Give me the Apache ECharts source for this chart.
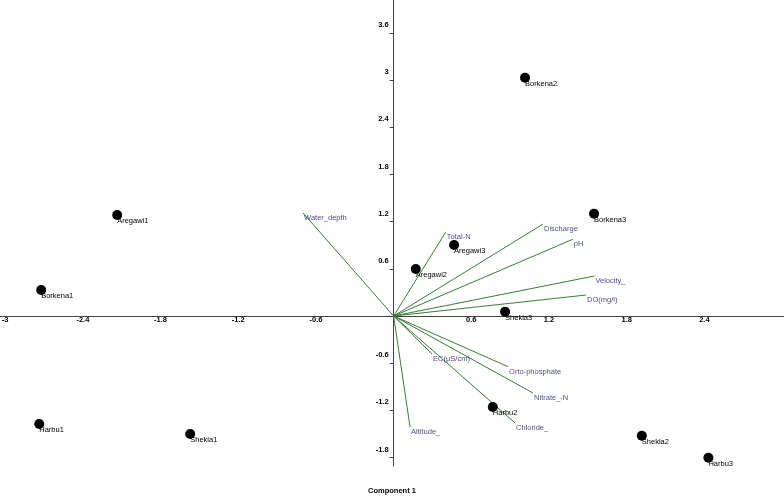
<!DOCTYPE html>
<html>
<head>
<meta charset="utf-8">
<script src="https://cdn.jsdelivr.net/npm/echarts@6/dist/echarts.min.js"></script>
<style>html,body{margin:0;padding:0;background:#fff;}#c{width:784px;height:496px;}</style>
</head>
<body>
<div id="c"></div>
<script>
const siteNames = ['Borkena1','Borkena2','Borkena3','Aregawi1','Aregawi2','Aregawi3','Shekla1','Shekla2','Shekla3','Harbu1','Harbu2','Harbu3'];
const siteX = [-2.722, 1.015, 1.548, -2.135, 0.171, 0.467, -1.571, 1.917, 0.861, -2.737, 0.766, 2.431];
const siteY = [0.33, 3.03, 1.30, 1.285, 0.598, 0.903, -1.501, -1.523, 0.055, -1.374, -1.158, -1.803];

const variables = ['Water_depth','Total-N','Discharge','pH','Velocity_','DO(mg/l)','EC(µS/cm)','Orto-phosphate','Nitrate_-N','Chloride_','Altitude_'];
const varX = [-0.699, 0.403, 1.154, 1.384, 1.551, 1.486, 0.297, 0.884, 1.077, 0.938, 0.127];
const varY = [1.31, 1.069, 1.17, 0.976, 0.509, 0.267, -0.483, -0.645, -0.98, -1.361, -1.412];

const xTicks = [-3, -2.4, -1.8, -1.2, -0.6, 0.6, 1.2, 1.8, 2.4];
const yTicks = [-1.8, -1.2, -0.6, 0.6, 1.2, 1.8, 2.4, 3, 3.6];
const xTitle = 'Component 1';

const FONT = 'Liberation Sans, Arial, sans-serif';
const chart = echarts.init(document.getElementById('c'));

const X_MIN = -3.04, X_MAX = 3.015, W = 784;
const Y_MIN = -1.908, Y_MAX = 4.02, H = 466;
const xZeroFromLeft = (0 - X_MIN) / (X_MAX - X_MIN) * W;
const yZeroFromBottom = (0 - Y_MIN) / (Y_MAX - Y_MIN) * H;

const siteData = siteNames.map((n, i) => ({ name: n, value: [siteX[i], siteY[i]] }));
const varEnds = variables.map((n, i) => ({ name: n, value: [varX[i], varY[i]] }));
const varLines = variables.map((n, i) => ({ coords: [[0, 0], [varX[i], varY[i]]] }));

chart.setOption({
  animation: false,
  backgroundColor: '#fff',
  grid: { left: 0, right: 0, top: 0, height: H, containLabel: false, outerBoundsMode: 'none' },
  title: {
    text: xTitle, left: 'center', top: 482,
    textStyle: { fontSize: 7.5, fontWeight: 'bold', color: '#000', fontFamily: FONT }
  },
  xAxis: {
    type: 'value', min: X_MIN, max: X_MAX, position: 'bottom', offset: -yZeroFromBottom,
    axisLine: { onZero: false, lineStyle: { color: '#444', width: 1 } },
    axisTick: { show: false },
    splitLine: { show: false },
    axisLabel: {
      customValues: xTicks, margin: 0, fontSize: 7.5, fontWeight: 'bold', color: '#000', fontFamily: FONT,
      formatter: v => String(v)
    }
  },
  yAxis: {
    type: 'value', min: Y_MIN, max: Y_MAX, position: 'left', offset: -xZeroFromLeft,
    axisLine: { onZero: false, lineStyle: { color: '#444', width: 1 } },
    axisTick: { show: true, length: 4, customValues: yTicks, lineStyle: { color: '#444' } },
    splitLine: { show: false },
    axisLabel: {
      customValues: yTicks, margin: 5, fontSize: 7.5, fontWeight: 'bold', color: '#000', fontFamily: FONT,
      verticalAlign: 'bottom', padding: [0, 0, 4, 0],
      formatter: v => String(v)
    }
  },
  series: [
    {
      type: 'lines', coordinateSystem: 'cartesian2d', silent: true, z: 2,
      lineStyle: { color: '#3a7a3a', width: 1, opacity: 1 },
      data: varLines
    },
    {
      type: 'scatter', symbol: 'circle', symbolSize: 1, z: 3, silent: true,
      itemStyle: { color: 'rgba(0,0,0,0)' },
      label: {
        show: true, formatter: '{b}', position: [1.5, 5.5], align: 'left', verticalAlign: 'middle',
        fontSize: 7.5, color: '#1a1a66', fontFamily: FONT
      },
      data: varEnds
    },
    {
      type: 'scatter', symbol: 'circle', symbolSize: 10, z: 4, silent: true,
      itemStyle: { color: '#000', opacity: 1 },
      label: {
        show: true, formatter: '{b}', position: [5, 11], align: 'left', verticalAlign: 'middle',
        fontSize: 7.5, color: '#000', fontFamily: FONT
      },
      data: siteData
    }
  ]
});
</script>
</body>
</html>
